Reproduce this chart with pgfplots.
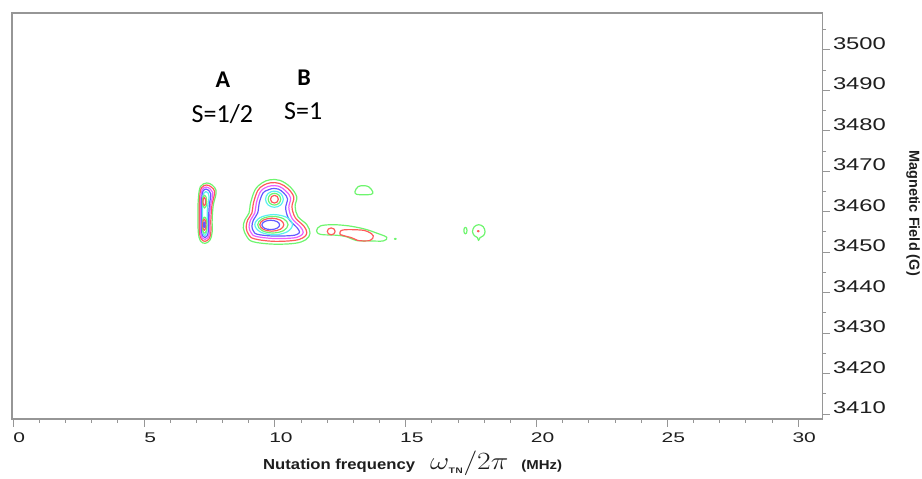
\documentclass[border=0pt]{standalone}
\usepackage{fontspec}
\usepackage{graphicx}
\usepackage{pgfplots}
\pgfplotsset{compat=1.18}
\usetikzlibrary{calc}

\setmainfont{Liberation Sans}
\newfontfamily\ytickfont[FakeStretch=1.4]{Liberation Sans}
\newfontfamily\xtickfont[FakeStretch=1.5]{Liberation Sans}
\newfontfamily\labfont[FakeStretch=1.15]{Liberation Sans}
\newfontfamily\annfont{Carlito}

\definecolor{cgreen}{RGB}{110,245,110}
\definecolor{cred}{RGB}{255,90,90}
\definecolor{cmag}{RGB}{235,95,255}
\definecolor{cblue}{RGB}{100,90,255}
\definecolor{ccyan}{RGB}{90,240,240}
\definecolor{framegray}{RGB}{150,150,150}
\definecolor{labgray}{RGB}{30,30,30}

\pgfplotsset{ring/.style={mark=none, smooth cycle, tension=0.6, line width=1.2bp, line join=round, draw=#1}}

\begin{document}
\begin{tikzpicture}
\begin{axis}[
  scale only axis, width=810.3bp, height=406bp,
  xmin=-0.05, xmax=30.92, ymin=3408.8, ymax=3509.1,
  axis line style={framegray, line width=1.1bp},
  xtick={0,5,...,30}, minor xtick={0,1,...,30},
  ytick={3410,3420,...,3500}, minor ytick={3415,3425,...,3505},
  xtick pos=bottom, ytick pos=right, yticklabel pos=right,
  tick align=outside,
  major tick length=7.5bp, minor tick length=3.7bp,
  every tick/.style={framegray, line width=1bp},
  /pgf/number format/assume math mode=true,
  /pgf/number format/set thousands separator={},
  xticklabel style={font=\xtickfont\fontsize{14bp}{14bp}\selectfont, text=labgray,
    anchor=north, inner sep=0pt, xshift=6bp, yshift=-6.2bp},
  yticklabel style={font=\ytickfont\fontsize{17bp}{17bp}\selectfont, text=labgray,
    anchor=south west, inner sep=0pt, xshift=3bp},
]

% ---- peak A (S=1/2) ----
\addplot[ring=cgreen] coordinates {(7.39,3467.1)(7.6,3466.6)(7.75,3465.3)(7.72,3463.6)(7.64,3461.5)(7.6,3458)(7.6,3455)(7.52,3453)(7.33,3452.2)(7.15,3452.8)(7.07,3455)(7.06,3459)(7.07,3463)(7.15,3466.2)};
\addplot[ring=cred] coordinates {(7.39,3466.6)(7.57,3466.1)(7.69,3465.1)(7.66,3463.5)(7.59,3461.5)(7.55,3458)(7.55,3455)(7.48,3453.3)(7.33,3452.7)(7.19,3453.2)(7.115,3455)(7.105,3459)(7.115,3463)(7.19,3465.9)};
\addplot[ring=cmag] coordinates {(7.38,3466.1)(7.53,3465.6)(7.62,3464.8)(7.6,3463.4)(7.54,3461.5)(7.5,3458)(7.5,3455)(7.44,3453.6)(7.33,3453.15)(7.22,3453.5)(7.16,3455)(7.15,3459)(7.16,3463)(7.22,3465.5)};
\addplot[ring=cblue] coordinates {(7.37,3465.6)(7.49,3465.1)(7.55,3464.4)(7.53,3463.2)(7.49,3461.5)(7.46,3458)(7.45,3455)(7.4,3454)(7.33,3453.6)(7.26,3453.9)(7.2,3455)(7.19,3459)(7.2,3463)(7.25,3465.1)};
\addplot[ring=ccyan] coordinates {(7.36,3465.0)(7.45,3464.6)(7.48,3463.8)(7.46,3462.5)(7.42,3461)(7.41,3458)(7.4,3455.5)(7.36,3454.4)(7.31,3454.1)(7.27,3454.4)(7.24,3455.5)(7.23,3459)(7.24,3463)(7.28,3464.6)};
\addplot[ring=cgreen] coordinates {(7.39,3462.5)(7.367,3463.64)(7.31,3464.1)(7.253,3463.64)(7.23,3462.5)(7.253,3461.36)(7.31,3460.9)(7.367,3461.36)};
\addplot[ring=cgreen] coordinates {(7.4,3456.7)(7.374,3458.12)(7.31,3458.7)(7.246,3458.12)(7.22,3456.7)(7.246,3455.28)(7.31,3454.7)(7.374,3455.28)};
\addplot[ring=cred] coordinates {(7.35,3462.5)(7.336,3463.21)(7.3,3463.5)(7.264,3463.21)(7.25,3462.5)(7.264,3461.79)(7.3,3461.5)(7.336,3461.79)};
\addplot[ring=cred] coordinates {(7.36,3456.8)(7.343,3457.79)(7.3,3458.2)(7.257,3457.79)(7.24,3456.8)(7.257,3455.81)(7.3,3455.4)(7.343,3455.81)};
\addplot[ring=cblue] coordinates {(7.33,3456.8)(7.321,3457.3)(7.3,3457.5)(7.279,3457.3)(7.27,3456.8)(7.279,3456.3)(7.3,3456.1)(7.321,3456.3)};

% ---- peak B (S=1) ----
\addplot[ring=cgreen] coordinates {(9.81,3467.9)(10.19,3467.75)(10.57,3466.2)(10.83,3463.75)(10.77,3461.3)(10.88,3458.8)(11.22,3456.8)(11.34,3454.7)(11.18,3453.1)(10.76,3452.2)(9.92,3452.0)(9.16,3452.6)(8.92,3453.9)(8.79,3456.0)(8.85,3458.0)(9.01,3459.7)(9.07,3462.2)(9.24,3465.4)(9.50,3467.1)};
\addplot[ring=cred] coordinates {(9.83,3467.15)(10.17,3467.0)(10.5,3465.7)(10.72,3463.6)(10.65,3461.2)(10.78,3458.5)(11.1,3456.5)(11.22,3454.8)(11.08,3453.6)(10.72,3452.9)(9.92,3452.7)(9.22,3453.3)(9.0,3454.3)(8.9,3456.1)(8.96,3458.0)(9.12,3459.7)(9.18,3462.2)(9.34,3465.2)(9.55,3466.5)};
\addplot[ring=cmag] coordinates {(9.85,3466.4)(10.15,3466.3)(10.42,3465.1)(10.6,3463.4)(10.53,3461.0)(10.66,3458.3)(10.97,3456.3)(11.08,3454.9)(10.96,3454.0)(10.66,3453.5)(9.93,3453.4)(9.28,3453.9)(9.1,3454.7)(9.01,3456.2)(9.07,3458.0)(9.23,3459.7)(9.29,3462.2)(9.44,3464.9)(9.62,3465.9)};
\addplot[ring=cblue] coordinates {(9.87,3465.7)(10.13,3465.6)(10.34,3464.6)(10.48,3463.2)(10.41,3460.8)(10.54,3458.1)(10.84,3456.1)(10.94,3455.0)(10.84,3454.4)(10.6,3454.1)(9.93,3454.0)(9.34,3454.4)(9.2,3455.0)(9.12,3456.3)(9.18,3458.0)(9.34,3459.7)(9.4,3462.2)(9.54,3464.6)(9.7,3465.3)};
% upper lobe
\addplot[ring=ccyan] coordinates {(10.32,3463.1)(10.221,3464.52)(9.98,3465.1)(9.739,3464.52)(9.64,3463.1)(9.739,3461.68)(9.98,3461.1)(10.221,3461.68)};
\addplot[ring=cgreen] coordinates {(10.22,3463.1)(10.15,3464.13)(9.98,3464.55)(9.81,3464.13)(9.74,3463.1)(9.81,3462.07)(9.98,3461.65)(10.15,3462.07)};
\addplot[ring=cred] coordinates {(10.13,3463.1)(10.087,3463.77)(9.98,3464.05)(9.873,3463.77)(9.83,3463.1)(9.873,3462.43)(9.98,3462.15)(10.087,3462.43)};
% lower lobe
\addplot[ring=ccyan] coordinates {(10.67,3456.8)(10.461,3458.575)(9.95,3459.3)(9.439,3458.575)(9.23,3456.8)(9.439,3455.025)(9.95,3454.3)(10.461,3455.025)};
\addplot[ring=cgreen] coordinates {(10.5,3456.8)(10.332,3458.256)(9.92,3458.85)(9.508,3458.256)(9.34,3456.8)(9.508,3455.344)(9.92,3454.75)(10.332,3455.344)};
\addplot[ring=cred] coordinates {(10.34,3456.8)(10.207,3457.936)(9.88,3458.4)(9.553,3457.936)(9.42,3456.8)(9.553,3455.664)(9.88,3455.2)(10.207,3455.664)};
\addplot[ring=cblue] coordinates {(10.18,3456.75)(10.081,3457.567)(9.84,3457.9)(9.599,3457.567)(9.5,3456.75)(9.599,3455.933)(9.84,3455.6)(10.081,3455.933)};

% ---- weaker features ----
\addplot[ring=cgreen] coordinates {(11.59,3455.3)(11.74,3456.5)(12.2,3456.8)(12.7,3456.6)(13.1,3456.2)(13.5,3455.6)(13.9,3454.7)(14.27,3453.7)(14.15,3452.8)(13.6,3452.8)(13.1,3452.9)(12.75,3453.8)(12.35,3454.2)(11.75,3454.4)};
\addplot[ring=cred] coordinates {(12.3,3455.15)(12.257,3455.75)(12.15,3456.0)(12.043,3455.75)(12.0,3455.15)(12.043,3454.55)(12.15,3454.3)(12.257,3454.55)};
\addplot[ring=cred] coordinates {(12.48,3454.55)(12.6,3455.5)(13.25,3455.5)(13.55,3455.1)(13.76,3454.05)(13.63,3452.9)(13.17,3452.9)(12.94,3453.55)(12.6,3454.15)};
\addplot[ring=cgreen] coordinates {(13.74,3464.9)(13.6,3466.1)(13.4,3466.45)(13.18,3466.2)(13.06,3465.0)(13.12,3464.3)(13.4,3464.2)(13.68,3464.3)};
\addplot[ring=cgreen] coordinates {(14.63,3453.3)(14.6,3453.45)(14.57,3453.3)(14.6,3453.15)};
\addplot[ring=cgreen] coordinates {(17.34,3455.35)(17.323,3455.93)(17.28,3456.17)(17.237,3455.93)(17.22,3455.35)(17.237,3454.77)(17.28,3454.53)(17.323,3454.77)};
\addplot[ring=cgreen] coordinates {(18.03,3455.1)(17.96,3456.3)(17.79,3456.8)(17.62,3456.3)(17.55,3455.1)(17.62,3454.1)(17.74,3453.6)(17.78,3452.9)(17.84,3453.6)(17.97,3454.1)};
\addplot[ring=cred] coordinates {(17.8,3455.2)(17.77,3455.35)(17.74,3455.2)(17.77,3455.05)};

% ---- peak labels ----
\node[font=\annfont\bfseries\fontsize{24bp}{24bp}\selectfont] at (axis cs:8.01,3492.6) {A};
\node[font=\annfont\fontsize{26bp}{26bp}\selectfont] at (axis cs:7.99,3484.06) {S=1/2};
\node[font=\annfont\bfseries\fontsize{24bp}{24bp}\selectfont] at (axis cs:11.11,3493.08) {B};
\node[font=\annfont\fontsize{26bp}{26bp}\selectfont] at (axis cs:11.08,3484.93) {S=1};
\end{axis}

% axis titles
\node[anchor=base west, inner sep=0pt, text=labgray] at ($(current axis.south west)+(251bp,-50.5bp)$)
  {{\labfont\bfseries\fontsize{14.5bp}{14.5bp}\selectfont Nutation frequency}\hspace{15bp}%
   \fontsize{28bp}{28bp}\selectfont\scalebox{1.2}[1]{$\omega_{\textsf{\bfseries\fontsize{8bp}{8bp}\selectfont TN}}/2\pi$}\hspace{13bp}%
   {\labfont\bfseries\fontsize{13bp}{13bp}\selectfont (MHz)}};
\node[rotate=-90, text=labgray, font=\bfseries\fontsize{14.5bp}{14.5bp}\selectfont] at ($(current axis.east)+(90.7bp,3bp)$) {Magnetic Field (G)};

\pgfresetboundingbox
\path ($(current axis.south west)+(-12bp,-60bp)$) rectangle ($(current axis.north east)+(99.7bp,13bp)$);
\end{tikzpicture}
\end{document}
